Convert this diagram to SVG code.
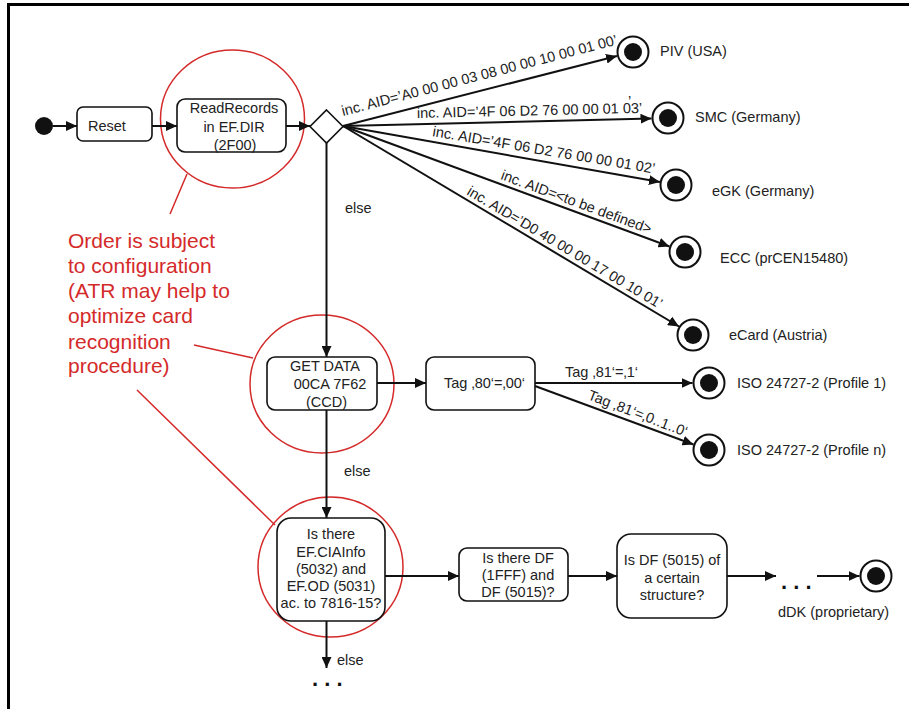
<svg xmlns="http://www.w3.org/2000/svg" width="909" height="709" viewBox="0 0 909 709">
<defs>
<marker id="arr" markerUnits="userSpaceOnUse" markerWidth="11" markerHeight="10" refX="11" refY="5" orient="auto">
<path d="M0,0 L11,5 L0,10 z" fill="#111"/>
</marker>
<style>
text{font-family:"Liberation Sans",Arial,sans-serif;font-size:14.5px;fill:#222}
.c{text-anchor:middle}
.box{fill:#fff;stroke:#111;stroke-width:1.6}
.ln{stroke:#111;stroke-width:2;fill:none}
.red{stroke:#d42a2a;stroke-width:1.5;fill:none}
.rt{fill:#d42a2a;font-size:21px}
.dots{font-size:22px;font-weight:bold;fill:#111}
.endo{fill:#fff;stroke:#111;stroke-width:2}
.endi{fill:#111}
</style>
</defs>
<rect width="909" height="709" fill="#fff"/>
<path d="M8.5,3 V709 M7,4.5 H909" stroke="#000" stroke-width="3" fill="none"/>

<g id="annotation">
<ellipse class="red" cx="232.5" cy="119" rx="72" ry="69"/>
<ellipse class="red" cx="322" cy="384" rx="72" ry="69"/>
<ellipse class="red" cx="330.5" cy="567" rx="72.5" ry="70"/>
<path class="red" d="M187,174 L170,214 M194,345 L253,358 M137,390 L275,525"/>
<text class="rt" x="68" y="248">Order is subject</text>
<text class="rt" x="68" y="273">to configuration</text>
<text class="rt" x="68" y="298">(ATR may help to</text>
<text class="rt" x="68" y="323">optimize card</text>
<text class="rt" x="68" y="349">recognition</text>
<text class="rt" x="68" y="373">procedure)</text>
</g>

<g id="connectors">
<line class="ln" x1="53" y1="126" x2="77" y2="126" marker-end="url(#arr)"/>
<line class="ln" x1="152" y1="126" x2="177" y2="126" marker-end="url(#arr)"/>
<line class="ln" x1="286" y1="126" x2="310" y2="126" marker-end="url(#arr)"/>
<line class="ln" x1="343" y1="126" x2="617" y2="56" marker-end="url(#arr)"/>
<line class="ln" x1="343" y1="126" x2="651.5" y2="118.5" marker-end="url(#arr)"/>
<line class="ln" x1="343" y1="126" x2="660" y2="182" marker-end="url(#arr)"/>
<line class="ln" x1="343" y1="126" x2="669.5" y2="246.5" marker-end="url(#arr)"/>
<line class="ln" x1="343" y1="126" x2="679" y2="326.5" marker-end="url(#arr)"/>
<line class="ln" x1="326.5" y1="143" x2="326.5" y2="357" marker-end="url(#arr)"/>
<line class="ln" x1="377" y1="383" x2="426" y2="383" marker-end="url(#arr)"/>
<line class="ln" x1="535" y1="383" x2="692.5" y2="383" marker-end="url(#arr)"/>
<line class="ln" x1="535" y1="386" x2="693.5" y2="444.5" marker-end="url(#arr)"/>
<line class="ln" x1="326.5" y1="410" x2="326.5" y2="518" marker-end="url(#arr)"/>
<line class="ln" x1="326.5" y1="621" x2="326.5" y2="668" marker-end="url(#arr)"/>
<line class="ln" x1="385" y1="576" x2="459" y2="576" marker-end="url(#arr)"/>
<line class="ln" x1="568" y1="576" x2="617" y2="576" marker-end="url(#arr)"/>
<line class="ln" x1="727" y1="576" x2="776" y2="576" marker-end="url(#arr)"/>
<line class="ln" x1="817" y1="576" x2="859.5" y2="576" marker-end="url(#arr)"/>

<text transform="rotate(-14.6 343 116)" x="343" y="116">inc. AID=’A0 00 00 03 08 00 00 10 00 01 00’</text>
<text transform="rotate(-1.3 417 118)" x="417" y="118">inc. AID=’4F 06 D2 76 00 00 01 03’</text>
<text x="628" y="106">’</text>
<text transform="rotate(9.6 432 136)" x="432" y="136">inc. AID=’4F 06 D2 76 00 00 01 02’</text>
<text transform="rotate(20.2 500 179)" x="500" y="179">inc. AID=&lt;to be defined&gt;</text>
<text transform="rotate(30.8 466 194)" x="466" y="194">inc. AID=’D0 40 00 00 17 00 10 01’</text>
<text x="345" y="213">else</text>
<text x="565" y="377">Tag ‚81‘=‚1‘</text>
<text transform="rotate(21 587 399)" x="587" y="399">Tag ‚81‘=‚0..1..0‘</text>
<text x="344" y="476">else</text>
<text x="337" y="665">else</text>
<text class="dots" x="312" y="686" xml:space="preserve">. . .</text>
<text class="dots" x="781" y="589" xml:space="preserve">. . .</text>
</g>

<g id="start"><circle cx="44" cy="126" r="9" fill="#111"/></g>

<g id="reset">
<rect class="box" x="77" y="107" width="75" height="34" rx="6"/>
<text x="88" y="131">Reset</text>
</g>

<g id="readrecords">
<rect class="box" x="177" y="99" width="109" height="53" rx="8"/>
<text class="c" x="234" y="113">ReadRecords</text>
<text class="c" x="234" y="132">in EF.DIR</text>
<text class="c" x="235" y="150">(2F00)</text>
</g>

<g id="decision">
<path d="M326.5,110 L343,126.5 L326.5,143 L310,126.5 z" fill="#fff" stroke="#111" stroke-width="1.6"/>
</g>

<g id="piv">
<circle class="endo" cx="633" cy="52" r="15.5"/><circle class="endi" cx="633" cy="52" r="9"/>
<text x="660" y="56">PIV (USA)</text>
</g>
<g id="smc">
<circle class="endo" cx="668" cy="118" r="15.5"/><circle class="endi" cx="668" cy="118" r="9"/>
<text x="695" y="122">SMC (Germany)</text>
</g>
<g id="egk">
<circle class="endo" cx="676" cy="185" r="15.5"/><circle class="endi" cx="676" cy="185" r="9"/>
<text x="712" y="196">eGK (Germany)</text>
</g>
<g id="ecc">
<circle class="endo" cx="685" cy="252" r="15.5"/><circle class="endi" cx="685" cy="252" r="9"/>
<text x="720" y="263">ECC (prCEN15480)</text>
</g>
<g id="ecard">
<circle class="endo" cx="693" cy="335" r="15.5"/><circle class="endi" cx="693" cy="335" r="9"/>
<text x="729" y="340">eCard (Austria)</text>
</g>

<g id="getdata">
<rect class="box" x="267" y="357" width="110" height="53" rx="8"/>
<text class="c" x="325" y="371">GET DATA</text>
<text class="c" x="330" y="389">00CA 7F62</text>
<text class="c" x="326.5" y="407">(CCD)</text>
</g>

<g id="tag80">
<rect class="box" x="426" y="357" width="109" height="53" rx="8"/>
<text x="444" y="388">Tag ‚80‘=‚00‘</text>
</g>

<g id="iso1">
<circle class="endo" cx="709" cy="383" r="15.5"/><circle class="endi" cx="709" cy="383" r="9"/>
<text x="737" y="388">ISO 24727-2 (Profile 1)</text>
</g>
<g id="ison">
<circle class="endo" cx="709" cy="450" r="15.5"/><circle class="endi" cx="709" cy="450" r="9"/>
<text x="737" y="455">ISO 24727-2 (Profile n)</text>
</g>

<g id="ciainfo">
<rect class="box" x="277" y="518" width="108" height="103" rx="14"/>
<text class="c" x="331" y="539">Is there</text>
<text class="c" x="331" y="557">EF.CIAInfo</text>
<text class="c" x="331" y="574">(5032) and</text>
<text class="c" x="331" y="591">EF.OD (5031)</text>
<text class="c" x="331" y="608">ac. to 7816-15?</text>
</g>

<g id="df1fff">
<rect class="box" x="459" y="548" width="109" height="53" rx="8"/>
<text class="c" x="518" y="563">Is there DF</text>
<text class="c" x="518" y="580">(1FFF) and</text>
<text class="c" x="518" y="597">DF (5015)?</text>
</g>

<g id="df5015">
<rect class="box" x="617" y="534" width="110" height="84" rx="14"/>
<text class="c" x="672" y="565">Is DF (5015) of</text>
<text class="c" x="672" y="583">a certain</text>
<text class="c" x="672" y="600">structure?</text>
</g>

<g id="ddk">
<circle class="endo" cx="876" cy="576" r="15.5"/><circle class="endi" cx="876" cy="576" r="9"/>
<text x="778" y="617">dDK (proprietary)</text>
</g>
</svg>
